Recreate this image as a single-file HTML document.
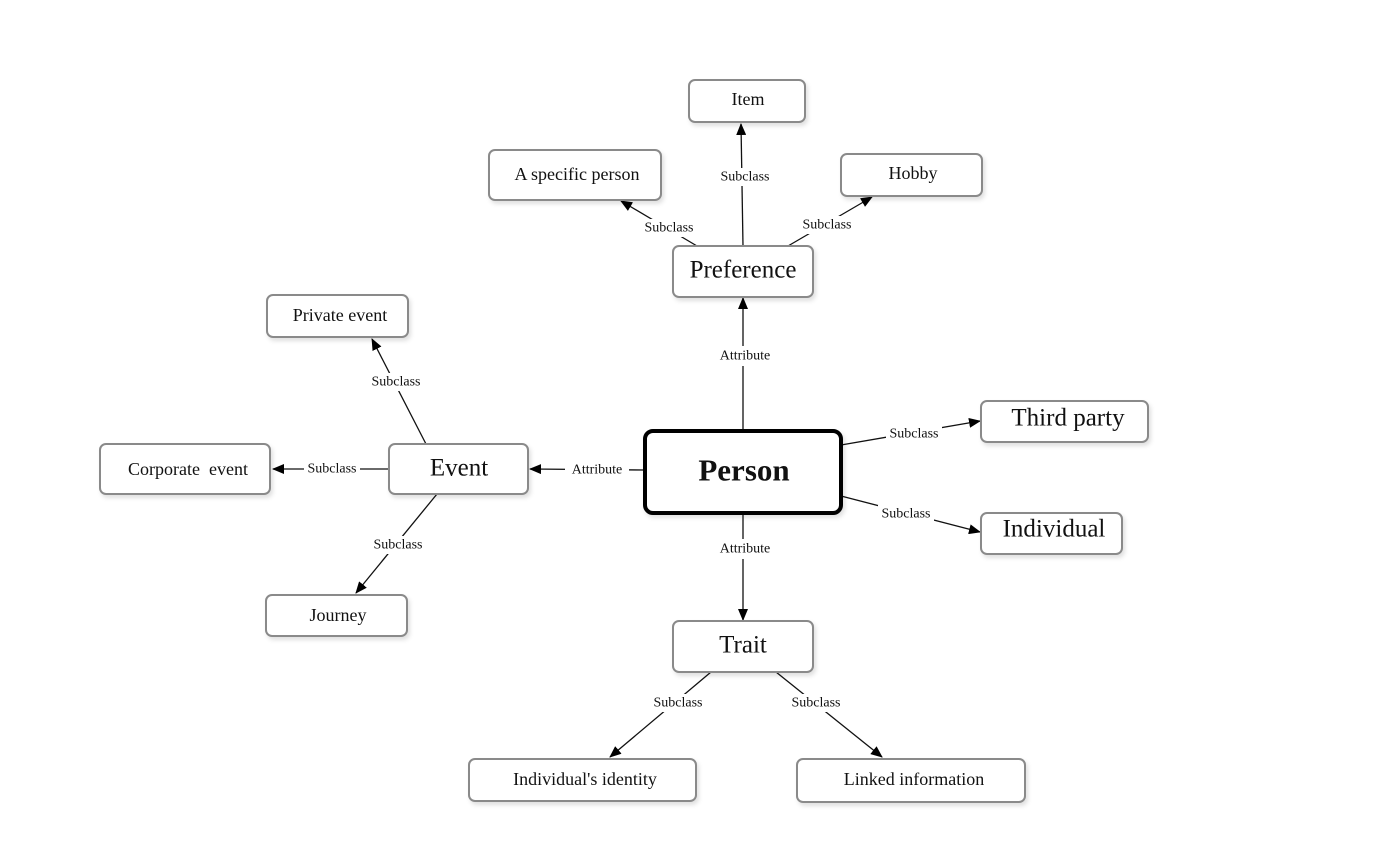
<!DOCTYPE html>
<html><head><meta charset="utf-8"><style>
body{margin:0;background:#fff}
svg{display:block}
text{font-family:"Liberation Serif",serif;fill:#111}
.b{fill:#fff;stroke:#8a8a8a;stroke-width:2}
.l{stroke:#111;stroke-width:1.3;fill:none}
.lb{font-size:14px;text-anchor:middle;dominant-baseline:central}
.t{text-anchor:middle;dominant-baseline:central}
</style></head><body>
<svg width="1378" height="858" viewBox="0 0 1378 858">
<defs><marker id="a" markerWidth="12" markerHeight="10" refX="11" refY="5" orient="auto" markerUnits="userSpaceOnUse"><path d="M0,0 L12,5 L0,10 z" fill="#000"/></marker>
<filter id="s" x="-10%" y="-10%" width="130%" height="140%"><feDropShadow dx="2" dy="3" stdDeviation="2" flood-color="#000" flood-opacity="0.12"/></filter></defs>
<g class="l" marker-end="url(#a)">
<line x1="743" y1="431" x2="743" y2="298"/>
<line x1="743" y1="513" x2="743" y2="620"/>
<line x1="645" y1="470" x2="530" y2="469"/>
<line x1="841" y1="445" x2="980" y2="421"/>
<line x1="841" y1="496" x2="980" y2="532"/>
<line x1="743" y1="246" x2="741" y2="124"/>
<line x1="697" y1="246" x2="621" y2="201"/>
<line x1="788" y1="246" x2="872" y2="197"/>
<line x1="426" y1="444" x2="372" y2="339"/>
<line x1="389" y1="469" x2="273" y2="469"/>
<line x1="437" y1="494" x2="356" y2="593"/>
<line x1="711" y1="672" x2="610" y2="757"/>
<line x1="776" y1="672" x2="882" y2="757"/>
</g>
<g class="lb">
<rect x="712" y="346" width="66" height="20" fill="#fff"/><text x="745" y="356" class="lb">Attribute</text>
<rect x="712" y="539" width="66" height="20" fill="#fff"/><text x="745" y="549" class="lb">Attribute</text>
<rect x="565" y="461" width="64" height="18" fill="#fff"/><text x="597" y="470" class="lb">Attribute</text>
<rect x="886" y="425" width="56" height="18" fill="#fff"/><text x="914" y="434" class="lb">Subclass</text>
<rect x="878" y="505" width="56" height="18" fill="#fff"/><text x="906" y="514" class="lb">Subclass</text>
<rect x="717" y="168" width="56" height="18" fill="#fff"/><text x="745" y="177" class="lb">Subclass</text>
<rect x="641" y="219" width="56" height="18" fill="#fff"/><text x="669" y="228" class="lb">Subclass</text>
<rect x="799" y="216" width="56" height="18" fill="#fff"/><text x="827" y="225" class="lb">Subclass</text>
<rect x="368" y="373" width="56" height="18" fill="#fff"/><text x="396" y="382" class="lb">Subclass</text>
<rect x="304" y="460" width="56" height="18" fill="#fff"/><text x="332" y="469" class="lb">Subclass</text>
<rect x="370" y="536" width="56" height="18" fill="#fff"/><text x="398" y="545" class="lb">Subclass</text>
<rect x="650" y="694" width="56" height="18" fill="#fff"/><text x="678" y="703" class="lb">Subclass</text>
<rect x="788" y="694" width="56" height="18" fill="#fff"/><text x="816" y="703" class="lb">Subclass</text>
</g>
<g filter="url(#s)">
<rect class="b" x="689" y="80" width="116" height="42" rx="6"/>
<rect class="b" x="489" y="150" width="172" height="50" rx="6"/>
<rect class="b" x="841" y="154" width="141" height="42" rx="6"/>
<rect class="b" x="673" y="246" width="140" height="51" rx="6"/>
<rect class="b" x="267" y="295" width="141" height="42" rx="6"/>
<rect class="b" x="981" y="401" width="167" height="41" rx="6"/>
<rect x="645" y="431" width="196" height="82" rx="8" fill="#fff" stroke="#000" stroke-width="4"/>
<rect class="b" x="389" y="444" width="139" height="50" rx="6"/>
<rect class="b" x="100" y="444" width="170" height="50" rx="6"/>
<rect class="b" x="981" y="513" width="141" height="41" rx="6"/>
<rect class="b" x="673" y="621" width="140" height="51" rx="6"/>
<rect class="b" x="266" y="595" width="141" height="41" rx="6"/>
<rect class="b" x="469" y="759" width="227" height="42" rx="6"/>
<rect class="b" x="797" y="759" width="228" height="43" rx="6"/>
</g>
<g class="t">
<text class="t" x="748" y="99" font-size="18">Item</text>
<text class="t" x="577" y="174" font-size="18">A specific person</text>
<text class="t" x="913" y="173" font-size="18">Hobby</text>
<text class="t" x="743" y="270" font-size="25">Preference</text>
<text class="t" x="340" y="315" font-size="18">Private event</text>
<text class="t" x="1068" y="418" font-size="25">Third party</text>
<text class="t" x="744" y="470" font-size="31" font-weight="bold">Person</text>
<text class="t" x="459" y="468" font-size="25">Event</text>
<text class="t" x="188" y="469" font-size="18" xml:space="preserve">Corporate  event</text>
<text class="t" x="1054" y="529" font-size="25">Individual</text>
<text class="t" x="743" y="645" font-size="25">Trait</text>
<text class="t" x="338" y="615" font-size="18">Journey</text>
<text class="t" x="585" y="779" font-size="18">Individual's identity</text>
<text class="t" x="914" y="779" font-size="18">Linked information</text>
</g>
</svg>
</body></html>
